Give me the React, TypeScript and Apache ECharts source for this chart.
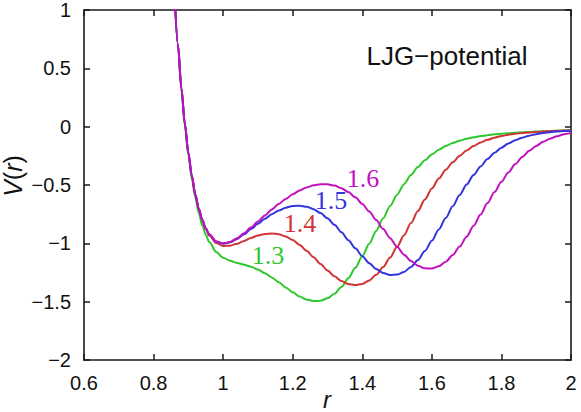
import React, { useEffect, useRef } from "react";
import * as echarts from "echarts";

// r grid (x values)
const rValues = [
  0.86, 0.87, 0.88, 0.89, 0.9, 0.91, 0.92, 0.93, 0.94, 0.95, 0.96,
  0.98, 1.0, 1.02, 1.04, 1.06, 1.08, 1.1, 1.12, 1.14, 1.16, 1.18, 1.2,
  1.22, 1.24, 1.26, 1.28, 1.3, 1.32, 1.34, 1.36, 1.38, 1.4,
  1.42, 1.44, 1.46, 1.48, 1.5, 1.52, 1.54, 1.56, 1.58, 1.6,
  1.62, 1.64, 1.66, 1.68, 1.7, 1.72, 1.74, 1.76, 1.78, 1.8,
  1.82, 1.84, 1.86, 1.88, 1.9, 1.92, 1.94, 1.96, 1.98, 2.0,
];

// V(r) for r0 = 1.3 (green)
const v13 = [
  1.156, 0.694, 0.315, 0.006, -0.245, -0.448, -0.611, -0.741, -0.845, -0.926, -0.989,
  -1.074, -1.123, -1.15, -1.168, -1.183, -1.201, -1.225, -1.256, -1.293, -1.334, -1.378, -1.42,
  -1.456, -1.482, -1.495, -1.492, -1.471, -1.432, -1.374, -1.299, -1.21, -1.11,
  -1.003, -0.894, -0.785, -0.68, -0.583, -0.493, -0.414, -0.346, -0.287, -0.238,
  -0.198, -0.166, -0.14, -0.12, -0.103, -0.091, -0.081, -0.073, -0.066, -0.06,
  -0.056, -0.052, -0.048, -0.045, -0.042, -0.04, -0.037, -0.035, -0.033, -0.031,
];

// V(r) for r0 = 1.4 (red)
const v14 = [
  1.165, 0.705, 0.329, 0.023, -0.225, -0.424, -0.583, -0.707, -0.804, -0.878, -0.933,
  -0.998, -1.022, -1.02, -1.003, -0.979, -0.954, -0.933, -0.919, -0.915, -0.922, -0.941, -0.972,
  -1.014, -1.064, -1.119, -1.177, -1.233, -1.283, -1.323, -1.349, -1.358, -1.348,
  -1.318, -1.27, -1.203, -1.122, -1.03, -0.93, -0.826, -0.723, -0.624, -0.53,
  -0.445, -0.37, -0.305, -0.25, -0.204, -0.166, -0.136, -0.113, -0.094, -0.08,
  -0.069, -0.061, -0.054, -0.049, -0.045, -0.041, -0.038, -0.036, -0.033, -0.031,
];

// V(r) for r0 = 1.5 (blue)
const v15 = [
  1.166, 0.706, 0.33, 0.024, -0.223, -0.421, -0.579, -0.703, -0.798, -0.871, -0.924,
  -0.985, -1.003, -0.991, -0.962, -0.923, -0.878, -0.833, -0.789, -0.75, -0.718, -0.694, -0.68,
  -0.677, -0.686, -0.707, -0.741, -0.786, -0.841, -0.905, -0.973, -1.043, -1.11,
  -1.17, -1.219, -1.254, -1.271, -1.268, -1.245, -1.202, -1.142, -1.065, -0.978,
  -0.882, -0.782, -0.682, -0.586, -0.496, -0.414, -0.341, -0.278, -0.224, -0.18,
  -0.145, -0.117, -0.094, -0.077, -0.064, -0.054, -0.047, -0.041, -0.037, -0.034,
];

// V(r) for r0 = 1.6 (magenta)
const v16 = [
  1.166, 0.706, 0.33, 0.024, -0.223, -0.421, -0.579, -0.702, -0.798, -0.87, -0.923,
  -0.984, -1.0, -0.988, -0.957, -0.914, -0.865, -0.813, -0.761, -0.71, -0.662, -0.619, -0.58,
  -0.547, -0.521, -0.503, -0.494, -0.494, -0.505, -0.527, -0.561, -0.606, -0.663,
  -0.728, -0.801, -0.878, -0.956, -1.03, -1.097, -1.152, -1.192, -1.214, -1.216,
  -1.197, -1.158, -1.101, -1.028, -0.943, -0.85, -0.753, -0.655, -0.561, -0.473,
  -0.392, -0.321, -0.259, -0.207, -0.165, -0.13, -0.103, -0.082, -0.065, -0.053,
];

const seriesNames = ["1.3", "1.4", "1.5", "1.6"];
const seriesColors = ["#2ec82e", "#d03434", "#3434dc", "#c010c0"];
const seriesValues = [v13, v14, v15, v16];
const labelPositions = [
  [268, 255],
  [300, 223],
  [331, 200],
  [363, 178],
];

const titleText = "LJG\u2212potential";

export default function App() {
  const ref = useRef<HTMLDivElement>(null);

  useEffect(() => {
    document.body.style.margin = "0";
    const chart = echarts.init(ref.current!, null, { renderer: "svg" });
    const axisColor = "#1a1a1a";
    const sans = "Liberation Sans";
    const fmt = (v: number) => {
      const s = String(Math.round(v * 10) / 10);
      return s.replace("-", "\u2212");
    };
    const commonLine = {
      show: true,
      onZero: false,
      lineStyle: { color: axisColor, width: 1.6 },
    };
    const commonTick = {
      show: true,
      inside: true,
      length: 6,
      lineStyle: { color: axisColor, width: 1.5 },
    };
    const xBase = { type: "value", min: 0.6, max: 2, interval: 0.2, splitLine: { show: false } };
    const yBase = { type: "value", min: -2, max: 1, interval: 0.5, splitLine: { show: false } };

    const option: any = {
      animation: false,
      grid: { left: 84, right: 10, top: 8, bottom: 52, containLabel: false },
      xAxis: [
        {
          ...xBase,
          position: "bottom",
          axisLine: commonLine,
          axisTick: commonTick,
          axisLabel: {
            margin: 13,
            fontSize: 20,
            fontFamily: sans,
            color: "#111",
            formatter: fmt,
            showMinLabel: true,
            showMaxLabel: true,
            hideOverlap: false,
          },
        },
        {
          ...xBase,
          position: "top",
          axisLine: commonLine,
          axisTick: commonTick,
          axisLabel: { show: false },
        },
      ],
      yAxis: [
        {
          ...yBase,
          position: "left",
          axisLine: commonLine,
          axisTick: commonTick,
          axisLabel: {
            margin: 13,
            fontSize: 20,
            fontFamily: sans,
            color: "#111",
            formatter: fmt,
            showMinLabel: true,
            showMaxLabel: true,
            hideOverlap: false,
          },
        },
        {
          ...yBase,
          position: "right",
          axisLine: commonLine,
          axisTick: commonTick,
          axisLabel: { show: false },
        },
      ],
      series: seriesValues.map((vals, i) => ({
        type: "line",
        name: seriesNames[i],
        xAxisIndex: 0,
        yAxisIndex: 0,
        data: rValues.map((r, k) => [r, vals[k]]),
        showSymbol: false,
        smooth: 0.3,
        smoothMonotone: "x",
        clip: true,
        lineStyle: { color: seriesColors[i], width: 2 },
        itemStyle: { color: seriesColors[i] },
      })),
      graphic: [
        {
          type: "text",
          x: 447,
          y: 56,
          style: {
            text: titleText,
            fontSize: 26,
            fontFamily: sans,
            fill: "#111",
            align: "center",
            verticalAlign: "middle",
          },
        },
        ...seriesNames.map((n, i) => ({
          type: "text",
          x: labelPositions[i][0],
          y: labelPositions[i][1],
          style: {
            text: n,
            fontSize: 26,
            fontFamily: "Liberation Serif",
            fill: seriesColors[i],
            align: "center",
            verticalAlign: "middle",
          },
        })),
        {
          type: "text",
          x: 327,
          y: 399,
          style: {
            text: "r",
            fontSize: 24,
            fontStyle: "italic",
            fontFamily: sans,
            fill: "#111",
            align: "center",
            verticalAlign: "middle",
          },
        },
        {
          type: "text",
          x: 13,
          y: 176,
          rotation: Math.PI / 2,
          style: {
            text: "{i|V}({i|r})",
            fontSize: 25,
            fontFamily: sans,
            fill: "#111",
            align: "center",
            verticalAlign: "middle",
            rich: {
              i: { fontStyle: "italic", fontSize: 25, fontFamily: sans, fill: "#111" },
            },
          },
        },
      ],
    };
    chart.setOption(option);
    return () => chart.dispose();
  }, []);

  return <div ref={ref} style={{ width: 581, height: 412 }} />;
}
